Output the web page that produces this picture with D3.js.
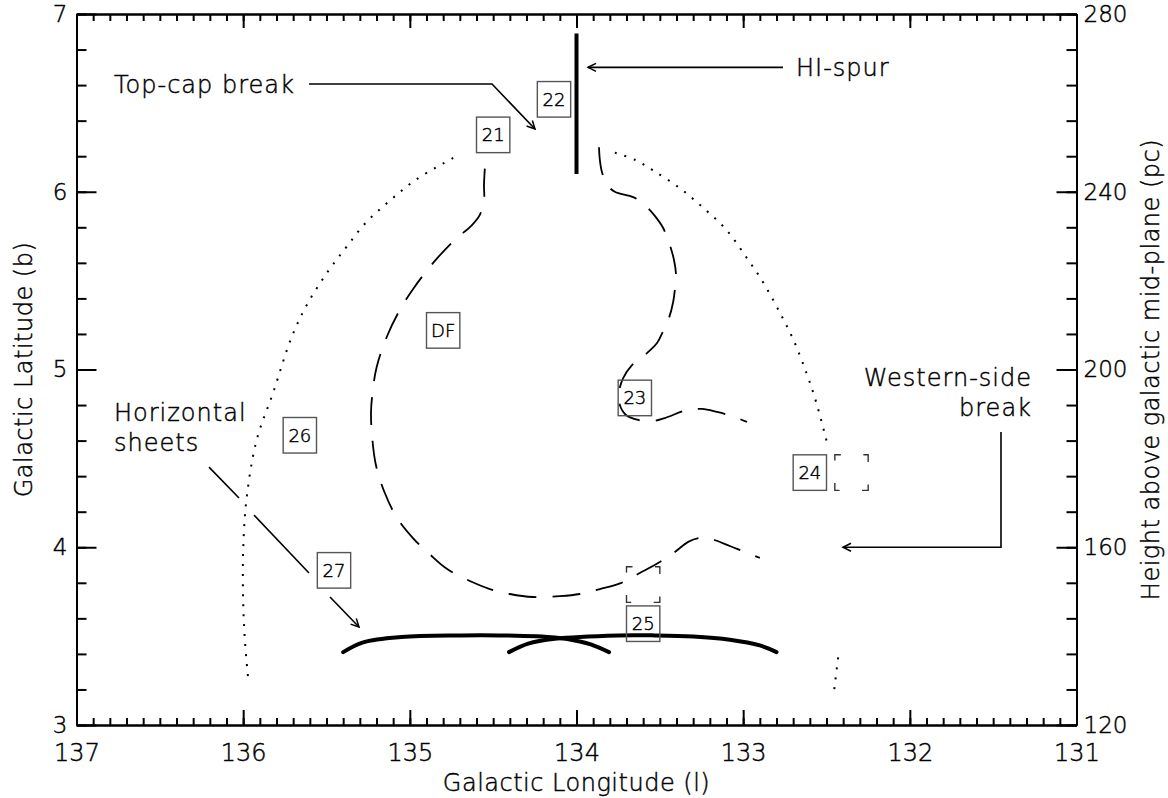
<!DOCTYPE html>
<html>
<head>
<meta charset="utf-8">
<script src="https://cdn.jsdelivr.net/npm/d3@7/dist/d3.min.js"></script>
<style>
  html, body { margin: 0; padding: 0; background: #fff; }
  svg { display: block; }
  text { font-family: "DejaVu Sans", sans-serif; font-weight: 200; fill: #000; stroke: #000; stroke-width: 0.45px; }
</style>
</head>
<body>
<div id="chart"></div>
<script>
// axis ticks
const lonTicks = [137, 136, 135, 134, 133, 132, 131];
const latTicks = [3, 4, 5, 6, 7];
const pcTicks = [120, 160, 200, 240, 280];

// numbered boxes (centre l, b)
const boxLabels = ['21', '22', 'DF', '23', '24', '25', '26', '27'];
const boxLon = [134.50, 134.135, 134.80, 133.65, 132.60, 133.60, 135.66, 135.455];
const boxLat = [6.32, 6.52, 5.22, 4.84, 4.42, 3.57, 4.63, 3.87];

// empty dashed boxes
const emptyLon = [132.35, 133.60];
const emptyLat = [4.42, 3.79];

// HI-spur (thick vertical)
const spurLon = [134.0, 134.0];
const spurLat = [6.89, 6.10];

// outer dotted shell, left side
const outerLeftLon = [134.74, 134.96, 135.12, 135.26, 135.38, 135.50, 135.62, 135.71, 135.82, 135.92, 135.98, 136.00, 136.00, 135.99, 135.97];
const outerLeftLat = [6.19, 6.07, 5.95, 5.83, 5.69, 5.54, 5.36, 5.18, 4.87, 4.60, 4.27, 3.98, 3.70, 3.48, 3.26];

// outer dotted shell, right side
const outerRightLon = [133.77, 133.65, 133.54, 133.38, 133.24, 133.10, 132.98, 132.88, 132.78, 132.70, 132.62, 132.56, 132.50];
const outerRightLat = [6.22, 6.18, 6.12, 6.02, 5.91, 5.785, 5.63, 5.49, 5.32, 5.17, 4.98, 4.81, 4.60];

// short dotted piece near the bottom right
const stubLon = [132.43, 132.455];
const stubLat = [3.38, 3.19];

// dashed loop (DF side)
const loopALon = [134.55, 134.555, 134.555, 134.58, 134.63, 134.73, 134.86, 134.975, 135.06, 135.14, 135.20, 135.225, 135.233,
  135.227, 135.203, 135.15, 135.077, 134.98, 134.88, 134.78, 134.64, 134.52, 134.40, 134.26, 134.10, 133.98, 133.86,
  133.73, 133.62, 133.50, 133.41, 133.33, 133.26, 133.19, 133.08, 132.99, 132.90];
const loopALat = [6.13, 6.04, 5.95, 5.87, 5.81, 5.73, 5.60, 5.46, 5.335, 5.18, 5.01, 4.86, 4.755,
  4.63, 4.46, 4.305, 4.165, 4.05, 3.96, 3.88, 3.81, 3.765, 3.737, 3.72, 3.725, 3.737, 3.765,
  3.80, 3.855, 3.917, 3.973, 4.03, 4.052, 4.046, 4.007, 3.973, 3.94];

// dashed loop (23 side)
const loopBLon = [133.865, 133.86, 133.847, 133.817, 133.77, 133.66, 133.59, 133.53, 133.48, 133.44, 133.415, 133.403, 133.41,
  133.42, 133.445, 133.48, 133.517, 133.59, 133.667, 133.72, 133.745, 133.74, 133.703, 133.63, 133.54, 133.47,
  133.337, 133.247, 133.157, 133.067, 132.977];
const loopBLat = [6.25, 6.18, 6.11, 6.04, 6.00, 5.97, 5.925, 5.864, 5.796, 5.70, 5.616, 5.532, 5.447,
  5.38, 5.29, 5.217, 5.149, 5.082, 5.025, 4.952, 4.873, 4.80, 4.744, 4.716, 4.71, 4.727,
  4.772, 4.778, 4.761, 4.738, 4.705];

// horizontal sheets (thick arcs)
const sheet1Lon = [135.40, 135.28, 135.05, 134.70, 134.46, 134.13, 133.98, 133.91, 133.805];
const sheet1Lat = [3.41, 3.465, 3.495, 3.504, 3.504, 3.492, 3.47, 3.452, 3.41];
const sheet2Lon = [134.405, 134.29, 134.13, 133.75, 133.53, 133.30, 133.08, 132.90, 132.80];
const sheet2Lat = [3.41, 3.458, 3.485, 3.504, 3.504, 3.498, 3.48, 3.448, 3.41];

// annotation leaders (l, b)
const topCapLon = [135.605, 134.507, 134.249];
const topCapLat = [6.606, 6.606, 6.353];
const spurArrowLon = [132.761, 133.931];
const spurArrowLat = [6.70, 6.70];
const westLon = [131.453, 131.453, 132.401];
const westLat = [4.648, 4.00, 4.00];
const sheetLeadLon = [[136.205, 136.025], [135.935, 135.605], [135.479, 135.305]];
const sheetLeadLat = [[4.451, 4.277], [4.181, 3.855], [3.72, 3.551]];

const zip = (a, b) => a.map((v, i) => [v, b[i]]);

const W = 1168, H = 798;
const margin = {top: 14, right: 91.5, bottom: 73, left: 76.5};
const chtW = W - margin.left - margin.right;
const chtH = H - margin.top - margin.bottom;

const svg = d3.select('#chart').append('svg').attr('width', W).attr('height', H);
const g = svg.append('g').attr('transform', 'translate(' + margin.left + ',' + margin.top + ')');

const x = d3.scaleLinear().domain([137, 131]).range([0, chtW]);
const y = d3.scaleLinear().domain([3, 7]).range([chtH, 0]);
const yPc = d3.scaleLinear().domain([120, 280]).range([chtH, 0]);

const line = d3.line().x(d => x(d[0])).y(d => y(d[1]));
const smooth = d3.line().x(d => x(d[0])).y(d => y(d[1])).curve(d3.curveCatmullRom.alpha(0.5));

// arrowhead
svg.append('defs').append('marker')
  .attr('id', 'arr')
  .attr('viewBox', '-10 -6 12 12')
  .attr('refX', 0).attr('refY', 0)
  .attr('markerWidth', 12).attr('markerHeight', 12)
  .attr('markerUnits', 'userSpaceOnUse')
  .attr('orient', 'auto')
  .append('path')
  .attr('d', 'M-8,-4L0,0L-8,4')
  .attr('fill', 'none')
  .attr('stroke', '#000')
  .attr('stroke-width', 1.5);

// axes
const minorLon = d3.range(1310, 1371).map(v => v / 10);
const minorLat = d3.range(15, 36).map(v => v / 5);

function styleAxis(sel) {
  sel.selectAll('path.domain').attr('stroke', '#000').attr('stroke-width', 2);
  sel.selectAll('line').attr('stroke', '#000').attr('stroke-width', 2);
  sel.attr('font-family', null).attr('font-size', null);
}

g.append('g').attr('transform', 'translate(0,' + chtH + ')')
  .call(d3.axisBottom(x).tickValues(minorLon).tickSizeInner(-7).tickSizeOuter(0).tickFormat(''))
  .call(styleAxis);
g.append('g').attr('transform', 'translate(0,' + chtH + ')')
  .call(d3.axisBottom(x).tickValues(lonTicks).tickSizeInner(-15).tickSizeOuter(0).tickPadding(19).tickFormat(d3.format('d')))
  .call(styleAxis)
  .selectAll('text').attr('font-size', 24).attr('dy', '0.71em');

g.append('g')
  .call(d3.axisTop(x).tickValues(minorLon).tickSizeInner(-7).tickSizeOuter(0).tickFormat(''))
  .call(styleAxis);
g.append('g')
  .call(d3.axisTop(x).tickValues(lonTicks).tickSizeInner(-14).tickSizeOuter(0).tickFormat(''))
  .call(styleAxis);

g.append('g')
  .call(d3.axisLeft(y).tickValues(minorLat).tickSizeInner(-10).tickSizeOuter(0).tickFormat(''))
  .call(styleAxis);
g.append('g')
  .call(d3.axisLeft(y).tickValues(latTicks).tickSizeInner(-20).tickSizeOuter(0).tickPadding(9).tickFormat(d3.format('d')))
  .call(styleAxis)
  .selectAll('text').attr('font-size', 23);

g.append('g').attr('transform', 'translate(' + chtW + ',0)')
  .call(d3.axisRight(y).tickValues(minorLat).tickSizeInner(-10).tickSizeOuter(0).tickFormat(''))
  .call(styleAxis);
g.append('g').attr('transform', 'translate(' + chtW + ',0)')
  .call(d3.axisRight(yPc).tickValues(pcTicks).tickSizeInner(-20).tickSizeOuter(0).tickPadding(7).tickFormat(d3.format('d')))
  .call(styleAxis)
  .selectAll('text').attr('font-size', 23);

// axis titles
svg.append('text')
  .attr('x', margin.left + chtW / 2).attr('y', 791)
  .attr('text-anchor', 'middle').attr('font-size', 24)
  .attr('letter-spacing', 0.5)
  .text('Galactic Longitude (l)');
svg.append('text')
  .attr('transform', 'translate(32,' + (margin.top + chtH / 2) + ') rotate(-90)')
  .attr('text-anchor', 'middle').attr('font-size', 24)
  .attr('letter-spacing', 0.5)
  .text('Galactic Latitude (b)');
svg.append('text')
  .attr('transform', 'translate(1159,' + (margin.top + chtH / 2) + ') rotate(-90)')
  .attr('text-anchor', 'middle').attr('font-size', 24)
  .attr('letter-spacing', 0.5)
  .text('Height above galactic mid-plane (pc)');

// dotted outer shell
[zip(outerLeftLon, outerLeftLat), zip(outerRightLon, outerRightLat), zip(stubLon, stubLat)].forEach(pts => {
  g.append('path')
    .datum(pts)
    .attr('fill', 'none')
    .attr('stroke', '#000')
    .attr('stroke-width', 2)
    .attr('stroke-dasharray', '2 8')
    .attr('d', smooth);
});

// dashed loops
[zip(loopALon, loopALat), zip(loopBLon, loopBLat)].forEach(pts => {
  g.append('path')
    .datum(pts)
    .attr('fill', 'none')
    .attr('stroke', '#000')
    .attr('stroke-width', 1.8)
    .attr('stroke-dasharray', '28 16')
    .attr('d', smooth);
});

// horizontal sheets
[zip(sheet1Lon, sheet1Lat), zip(sheet2Lon, sheet2Lat)].forEach(pts => {
  g.append('path')
    .datum(pts)
    .attr('fill', 'none')
    .attr('stroke', '#000')
    .attr('stroke-width', 4)
    .attr('stroke-linecap', 'round')
    .attr('d', smooth);
});

// HI-spur
g.append('path')
  .datum(zip(spurLon, spurLat))
  .attr('fill', 'none')
  .attr('stroke', '#000')
  .attr('stroke-width', 4)
  .attr('d', line);

// boxes
const bw = Math.abs(x(0.2) - x(0)), bh = y(0) - y(0.2);
const boxes = g.selectAll('g.box')
  .data(boxLabels.map((t, i) => ({t: t, l: boxLon[i], b: boxLat[i]})))
  .enter().append('g').attr('class', 'box');
boxes.append('rect')
  .attr('x', d => x(d.l) - bw / 2)
  .attr('y', d => y(d.b) - bh / 2)
  .attr('width', bw).attr('height', bh)
  .attr('fill', 'none').attr('stroke', '#555').attr('stroke-width', 1.4);
boxes.append('text')
  .attr('x', d => x(d.l)).attr('y', d => y(d.b))
  .attr('text-anchor', 'middle').attr('dy', '0.36em')
  .attr('font-size', 18)
  .text(d => d.t);

g.selectAll('rect.empty')
  .data(zip(emptyLon, emptyLat))
  .enter().append('rect').attr('class', 'empty')
  .attr('x', d => x(d[0]) - bw / 2)
  .attr('y', d => y(d[1]) - bh / 2)
  .attr('width', bw).attr('height', bh)
  .attr('fill', 'none').attr('stroke', '#333').attr('stroke-width', 1.4)
  .attr('stroke-dasharray', '12 22.5').attr('stroke-dashoffset', 6);

// annotations
function leader(lon, lat, arrow) {
  const p = g.append('path')
    .datum(zip(lon, lat))
    .attr('fill', 'none')
    .attr('stroke', '#000')
    .attr('stroke-width', 1.6)
    .attr('d', line);
  if (arrow) p.attr('marker-end', 'url(#arr)');
}
leader(topCapLon, topCapLat, true);
leader(spurArrowLon, spurArrowLat, true);
leader(westLon, westLat, true);
sheetLeadLon.forEach((lon, i) => leader(lon, sheetLeadLat[i], i === 2));

const labels = [
  {t: 'Top-cap break', l: 136.775, b: 6.606, a: 'start'},
  {t: 'HI-spur', l: 132.683, b: 6.70, a: 'start'},
  {t: 'Western-side', l: 131.267, b: 4.958, a: 'end'},
  {t: 'break', l: 131.267, b: 4.789, a: 'end'},
  {t: 'Horizontal', l: 136.775, b: 4.761, a: 'start'},
  {t: 'sheets', l: 136.775, b: 4.592, a: 'start'}
];
g.selectAll('text.note')
  .data(labels)
  .enter().append('text').attr('class', 'note')
  .attr('x', d => x(d.l)).attr('y', d => y(d.b))
  .attr('dy', '0.36em')
  .attr('text-anchor', d => d.a)
  .attr('font-size', 24)
  .attr('letter-spacing', 1)
  .text(d => d.t);
</script>
</body>
</html>
